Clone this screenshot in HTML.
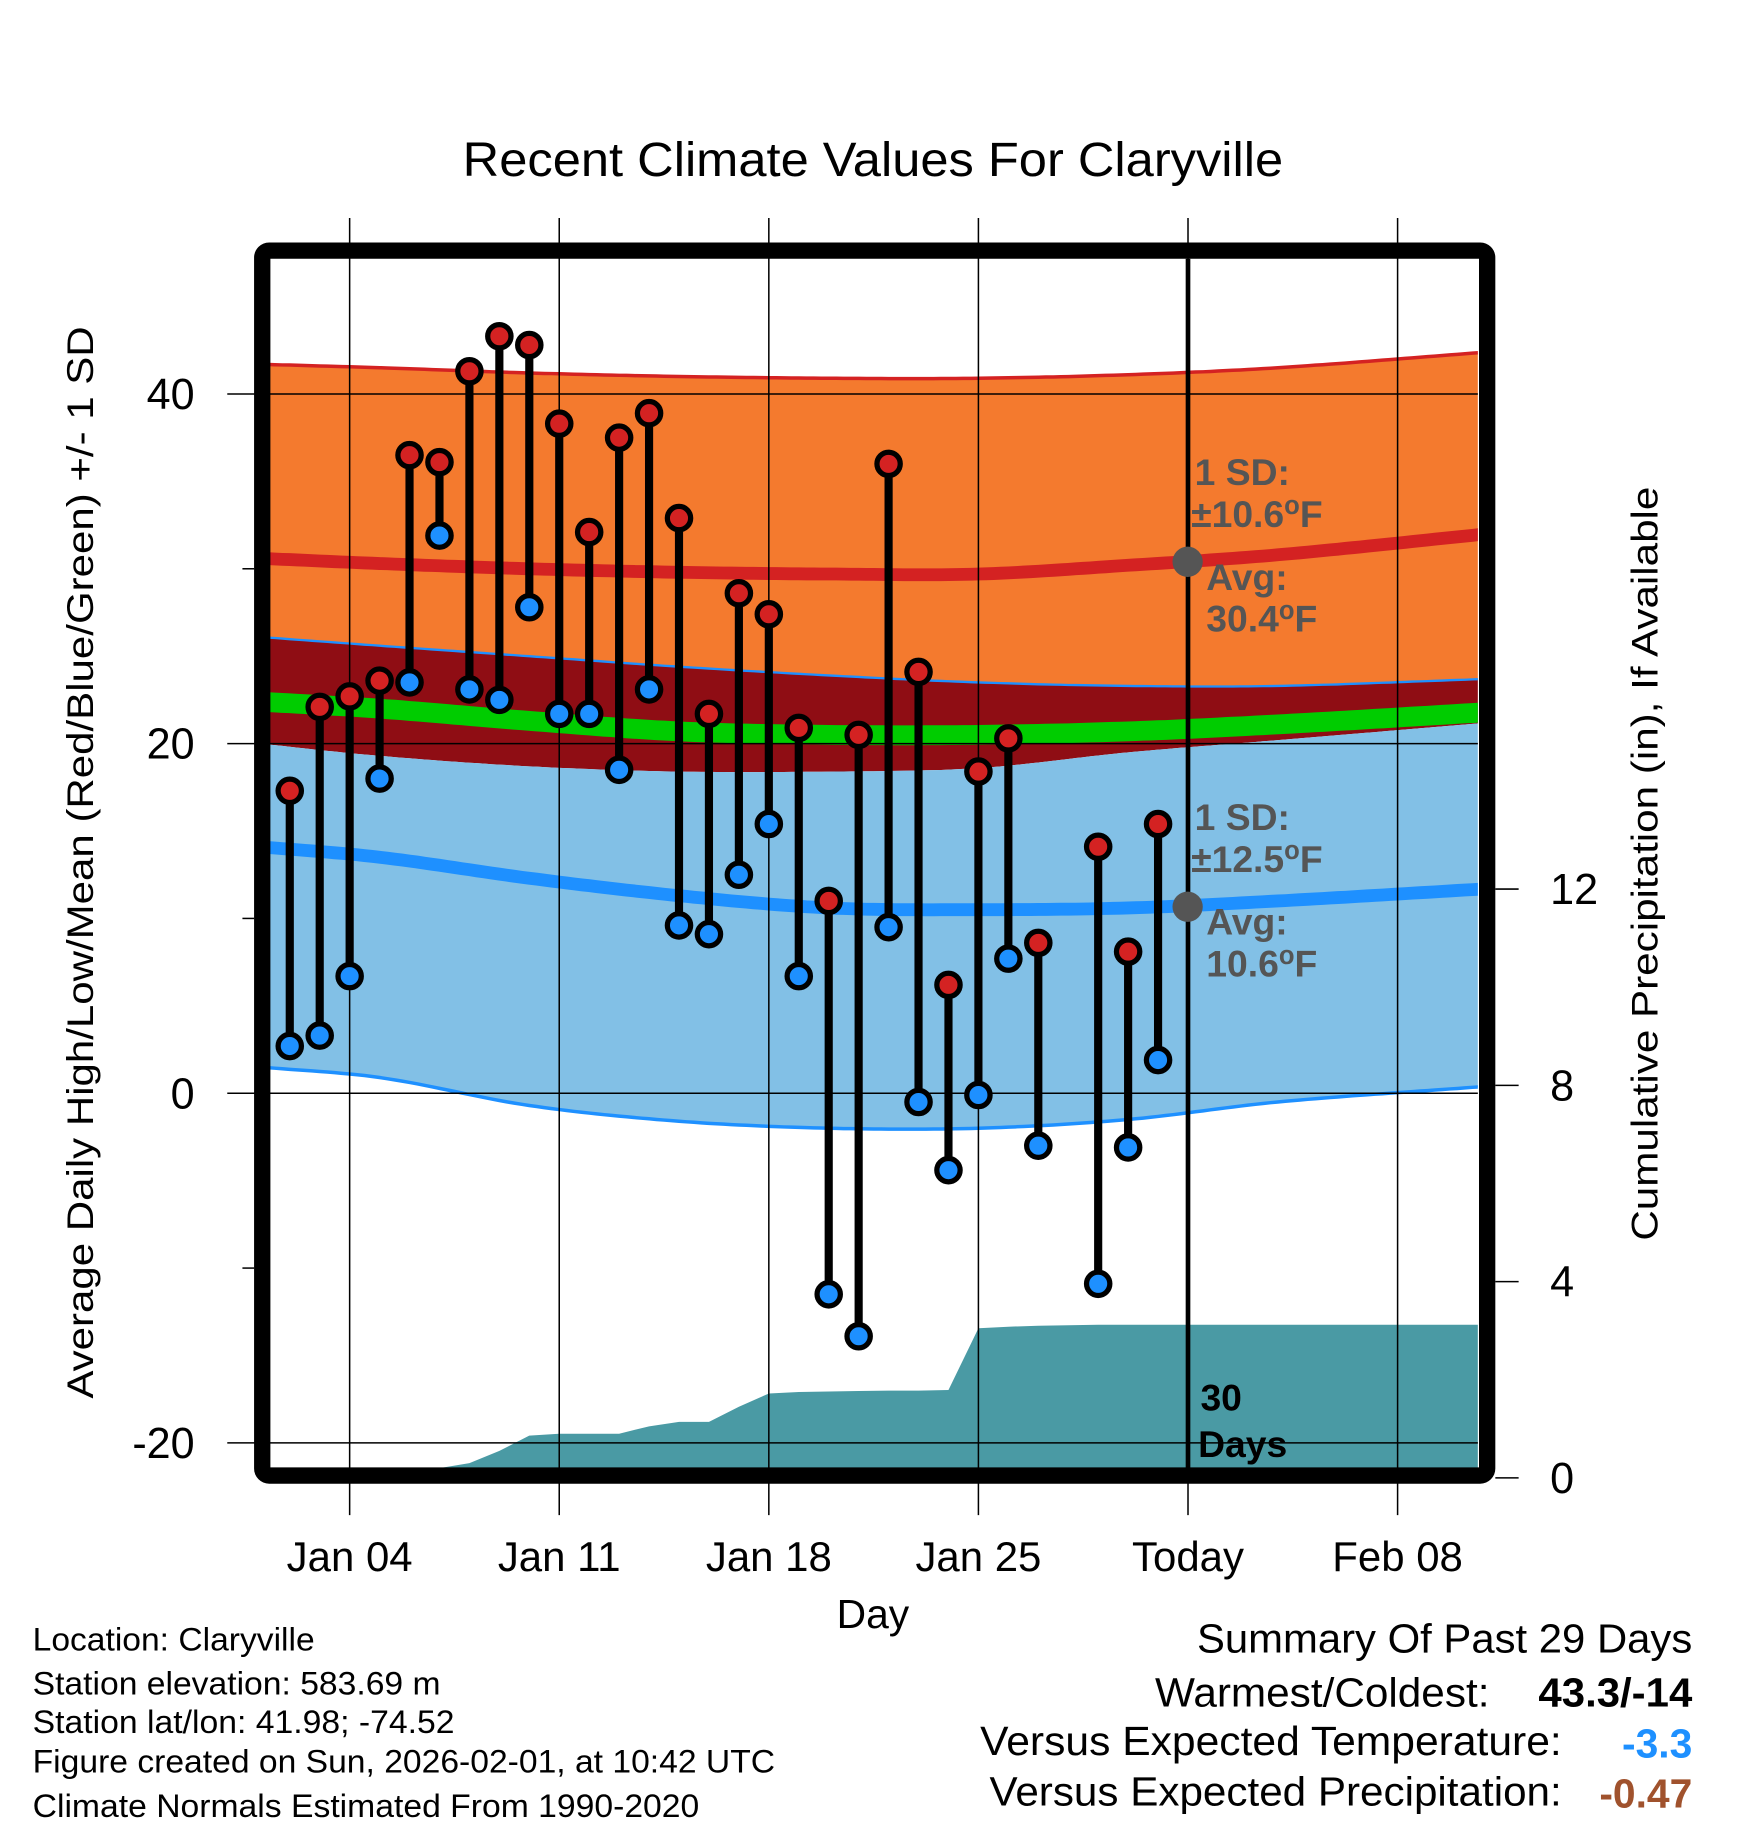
<!DOCTYPE html>
<html><head><meta charset="utf-8"><style>
html,body{margin:0;padding:0;background:#fff}
svg{display:block}
text{font-family:"Liberation Sans",Arial,sans-serif}
</style></head><body>
<svg id="chart" width="1748" height="1828" viewBox="0 0 1499.8 1568.4" xmlns="http://www.w3.org/2000/svg">
<defs><clipPath id="plotclip"><rect x="231" y="222" width="1037" height="1038"/></clipPath></defs>
<rect x="0" y="0" width="1499.8" height="1568.4" fill="#fff"/>
<text x="749" y="151" font-size="41" text-anchor="middle" textLength="704" lengthAdjust="spacingAndGlyphs">Recent Climate Values For Claryville</text>
<g id="bands" clip-path="url(#plotclip)"></g>
<g id="grid"></g>
<g id="marks"></g>
<g id="axes"></g>
<rect x="225" y="215" width="1051" height="1051" rx="6" fill="none" stroke="#000" stroke-width="14"/>
<g font-weight="bold" font-size="32" fill="#555">
<text x="1025" y="416">1 SD:</text>
<text x="1022" y="452">±10.6<tspan font-size="22" dy="-11">o</tspan><tspan dy="11">F</tspan></text>
<text x="1035" y="506">Avg:</text>
<text x="1035" y="542">30.4<tspan font-size="22" dy="-11">o</tspan><tspan dy="11">F</tspan></text>
</g>
<g font-weight="bold" font-size="32" fill="#555">
<text x="1025" y="712">1 SD:</text>
<text x="1022" y="748">±12.5<tspan font-size="22" dy="-11">o</tspan><tspan dy="11">F</tspan></text>
<text x="1035" y="802">Avg:</text>
<text x="1035" y="838">10.6<tspan font-size="22" dy="-11">o</tspan><tspan dy="11">F</tspan></text>
</g>
<circle cx="1019" cy="482" r="13" fill="#555"/>
<circle cx="1019" cy="778" r="13" fill="#555"/>
<g font-weight="bold" font-size="32" fill="#000">
<text x="1030" y="1210">30</text>
<text x="1028" y="1250">Days</text>
</g>
<text transform="translate(80,740) rotate(-90)" font-size="32" text-anchor="middle" textLength="920" lengthAdjust="spacingAndGlyphs">Average Daily High/Low/Mean (Red/Blue/Green) +/- 1 SD</text>
<text transform="translate(1422,741) rotate(-90)" font-size="32" text-anchor="middle" textLength="647" lengthAdjust="spacingAndGlyphs">Cumulative Precipitation (in), If Available</text>
<text x="749" y="1397" font-size="35" text-anchor="middle">Day</text>
<g font-size="28">
<text x="28" y="1416" textLength="242" lengthAdjust="spacingAndGlyphs">Location: Claryville</text>
<text x="28" y="1454" textLength="350" lengthAdjust="spacingAndGlyphs">Station elevation: 583.69 m</text>
<text x="28" y="1487" textLength="362" lengthAdjust="spacingAndGlyphs">Station lat/lon: 41.98; -74.52</text>
<text x="28" y="1521" textLength="637" lengthAdjust="spacingAndGlyphs">Figure created on Sun, 2026-02-01, at 10:42 UTC</text>
<text x="28" y="1559" textLength="572" lengthAdjust="spacingAndGlyphs">Climate Normals Estimated From 1990-2020</text>
</g>
<g font-size="35" text-anchor="end">
<text x="1452" y="1418" textLength="425" lengthAdjust="spacingAndGlyphs">Summary Of Past 29 Days</text>
<text x="1278" y="1464" textLength="287" lengthAdjust="spacingAndGlyphs">Warmest/Coldest:</text>
<text x="1452" y="1464" font-weight="bold" textLength="132" lengthAdjust="spacingAndGlyphs">43.3/-14</text>
<text x="1340" y="1506" textLength="499" lengthAdjust="spacingAndGlyphs">Versus Expected Temperature:</text>
<text x="1452" y="1508" font-weight="bold" fill="#1E90FF">-3.3</text>
<text x="1340" y="1549" textLength="491" lengthAdjust="spacingAndGlyphs">Versus Expected Precipitation:</text>
<text x="1452" y="1551" font-weight="bold" fill="#A0522D">-0.47</text>
</g>
</svg>
<script>
const obsDays=[2,3,4,5,6,7,8,9,10,11,12,13,14,15,16,17,18,19,20,21,22,23,24,25,26,27,29,30,31];
const highs=[17.3,22.1,22.7,23.6,36.5,36.1,41.3,43.3,42.8,38.3,32.1,37.5,38.9,32.9,21.7,28.6,27.4,20.9,11.0,20.5,36.0,24.1,6.2,18.4,20.3,8.6,14.1,8.1,15.4];
const lows=[2.7,3.3,6.7,18.0,23.5,31.9,23.1,22.5,27.8,21.7,21.7,18.5,23.1,9.6,9.1,12.5,15.4,6.7,-11.5,-13.9,9.5,-0.5,-4.4,-0.1,7.7,-3.0,-10.9,-3.1,1.9];
const normDays=[1,5,10,15,20,25,30,35,42];
const hiUpper=[41.7,41.5,41.2,41.0,40.9,40.9,41.1,41.5,42.4];
const hiAvg=[30.6,30.3,30.0,29.8,29.7,29.7,30.2,30.8,32.0];
const hiLower=[26.1,25.6,25.0,24.4,23.9,23.5,23.3,23.3,23.7];
const meanAvg=[22.4,22.0,21.3,20.7,20.5,20.5,20.7,21.1,21.8];
const loUpper=[20.0,19.3,18.7,18.4,18.4,18.6,19.5,20.2,21.2];
const loAvg=[14.1,13.5,12.3,11.3,10.6,10.5,10.6,11.0,11.7];
const loLower=[1.5,0.9,-0.7,-1.6,-2.0,-2.0,-1.5,-0.5,0.4];
const precipDays=[1,2,3,4,5,6,7,8,9,10,11,12,13,14,15,16,17,18,19,20,21,22,23,24,25,26,27,28,29,30,31,32,42];
const precip=[0,0,0,0,0,0,0.2,0.3,0.55,0.86,0.9,0.9,0.9,1.05,1.14,1.14,1.45,1.72,1.75,1.76,1.77,1.78,1.78,1.79,3.05,3.08,3.10,3.11,3.12,3.12,3.12,3.12,3.12];
const yTicks=[40,20,0,-20];
const yMinor=[30,10,-10];
const pTicks=[0,4,8,12];
const xTickDays=[4,11,18,25,32,39];
const xTickLabels=["Jan 04","Jan 11","Jan 18","Jan 25","Today","Feb 08"];
const todayDay=32;

const X=d=>300+(d-4)*25.69;
const Y=v=>938-v*15;
const P=p=>1268-p*42.1;
const NS="http://www.w3.org/2000/svg";
function mk(tag,attrs,parent){const e=document.createElementNS(NS,tag);for(const k in attrs)e.setAttribute(k,attrs[k]);parent.appendChild(e);return e;}
// Catmull-Rom interpolation for smooth normals
function interp(arr,d){
 let i=0;while(i<normDays.length-2&&d>normDays[i+1])i++;
 const t=Math.max(0,Math.min(1,(d-normDays[i])/(normDays[i+1]-normDays[i])));
 const p0=arr[Math.max(0,i-1)],p1=arr[i],p2=arr[i+1],p3=arr[Math.min(arr.length-1,i+2)];
 const h=normDays[i+1]-normDays[i];
 const m1=(p2-p0)/((normDays[i+1]-normDays[Math.max(0,i-1)])||1)*h;
 const m2=(p3-p1)/((normDays[Math.min(arr.length-1,i+2)]-normDays[i])||1)*h;
 const t2=t*t,t3=t2*t;
 return (2*t3-3*t2+1)*p1+(t3-2*t2+t)*m1+(-2*t3+3*t2)*p2+(t3-t2)*m2;
}
const samples=[];for(let d=1;d<=42;d+=0.25)samples.push(d);
function line(arr){return samples.map((d,i)=>(i?'L':'M')+X(d).toFixed(1)+','+Y(interp(arr,d)).toFixed(1)).join('');}
function band(a,b){const top=samples.map((d,i)=>(i?'L':'M')+X(d).toFixed(1)+','+Y(interp(a,d)).toFixed(1)).join('');const bot=samples.slice().reverse().map(d=>'L'+X(d).toFixed(1)+','+Y(interp(b,d)).toFixed(1)).join('');return top+bot+'Z';}
const bands=document.getElementById('bands');
let e;
e=mk('path',{d:band(hiUpper,hiLower),fill:'#F47A2E'},bands);


e=mk('path',{d:band(hiLower,loUpper),fill:'#8F0D14'},bands);


e=mk('path',{d:band(loUpper,loLower),fill:'#82C0E6'},bands);


e=mk('path',{d:line(meanAvg),fill:'none',stroke:'#00CC00','stroke-width':17},bands);


e=mk('path',{d:line(hiUpper),fill:'none',stroke:'#D42222','stroke-width':3},bands);


e=mk('path',{d:line(hiAvg),fill:'none',stroke:'#D42222','stroke-width':11},bands);


e=mk('path',{d:line(hiLower),fill:'none',stroke:'#1E90FF','stroke-width':2},bands);


e=mk('path',{d:line(loAvg),fill:'none',stroke:'#1E90FF','stroke-width':11},bands);


e=mk('path',{d:line(loLower),fill:'none',stroke:'#1E90FF','stroke-width':3},bands);


let pd='M'+X(precipDays[0])+','+P(0);
precipDays.forEach((d,i)=>{pd+='L'+X(d).toFixed(1)+','+P(precip[i]).toFixed(1);});
pd+='L'+X(precipDays[precipDays.length-1])+','+P(0)+'Z';
e=mk('path',{d:pd,fill:'#4A9AA4'},bands);



const grid=document.getElementById('grid');
yTicks.forEach(v=>{
 e=mk('line',{x1:195,x2:1268,y1:Y(v),y2:Y(v),stroke:'#000','stroke-width':1.3},grid);
 
 
});
yMinor.forEach(v=>{
 e=mk('line',{x1:208,x2:218,y1:Y(v),y2:Y(v),stroke:'#000','stroke-width':1.3},grid);
 
 
});
xTickDays.forEach(d=>{
 e=mk('line',{x1:X(d),x2:X(d),y1:187,y2:1300,stroke:'#000','stroke-width':1.3},grid);
 
 
});
e=mk('line',{x1:X(todayDay),x2:X(todayDay),y1:222,y2:1262,stroke:'#000','stroke-width':4},grid);


pTicks.forEach(p=>{
 e=mk('line',{x1:1283,x2:1303,y1:P(p),y2:P(p),stroke:'#000','stroke-width':1.3},grid);
 
 
});

const marks=document.getElementById('marks');
obsDays.forEach((d,i)=>{
 e=mk('line',{x1:X(d),x2:X(d),y1:Y(highs[i]),y2:Y(lows[i]),stroke:'#000','stroke-width':7},marks);
 
 
});
obsDays.forEach((d,i)=>{
 e=mk('circle',{cx:X(d),cy:Y(highs[i]),r:10,fill:'#D42222',stroke:'#000','stroke-width':4.5},marks);
 
 
 e=mk('circle',{cx:X(d),cy:Y(lows[i]),r:10,fill:'#1E90FF',stroke:'#000','stroke-width':4.5},marks);
 
 
});

const axes=document.getElementById('axes');
yTicks.forEach(v=>{
 e=mk('text',{x:167,y:Y(v)+13,'font-size':37,'text-anchor':'end'},axes);
 e.textContent=String(v);
 
 
});
pTicks.forEach(p=>{
 e=mk('text',{x:1330,y:P(p)+13,'font-size':37},axes);
 e.textContent=String(p);
 
 
});
xTickDays.forEach((d,i)=>{
 e=mk('text',{x:X(d),y:1348,'font-size':36,'text-anchor':'middle'},axes);
 e.textContent=xTickLabels[i];
 
 
});
</script>
</body></html>
